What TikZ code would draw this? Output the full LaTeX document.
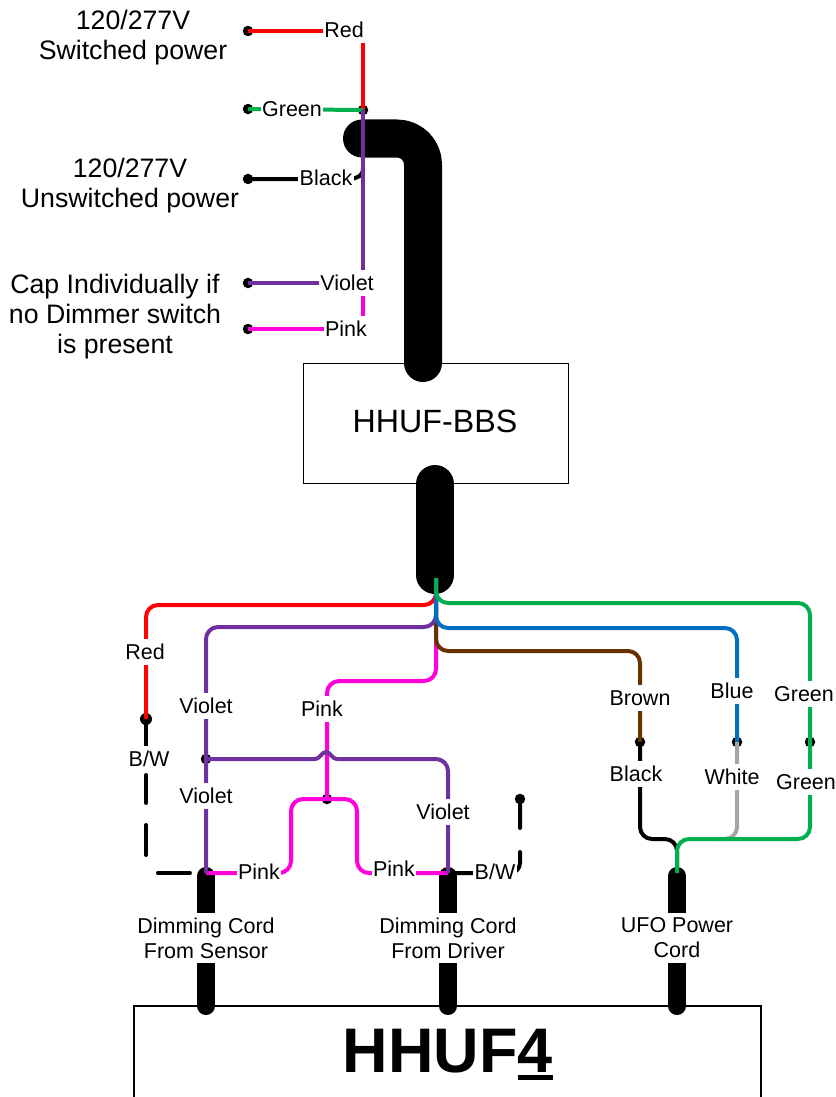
\documentclass[tikz,border=0pt]{standalone}
\usepackage{fontspec}
\setmainfont{Liberation Sans}
\definecolor{wred}{HTML}{FF0000}
\definecolor{wgreen}{HTML}{00B050}
\definecolor{wviolet}{HTML}{7030A0}
\definecolor{wpink}{HTML}{FF00DD}
\definecolor{wblue}{HTML}{0070C0}
\definecolor{wbrown}{HTML}{663300}
\definecolor{wgray}{HTML}{A6A6A6}
\tikzset{
  wire/.style={line width=4pt,line join=round},
  roundwire/.style={wire,rounded corners=12pt},
  term/.style={circle,fill=black,inner sep=0pt,minimum size=10.5pt},
  lab/.style={fill=white,inner xsep=1.5pt,inner ysep=0pt,minimum height=26pt,font=\fontsize{21.5}{25}\selectfont},
  big/.style={font=\fontsize{26.7}{30}\selectfont,align=center},
  cordlab/.style={fill=white,inner xsep=1pt,inner ysep=0pt,minimum height=50pt,align=center,font=\fontsize{21.5}{25}\selectfont},
  cable/.style={line width=18pt,line cap=round},
  fatcable/.style={line width=38pt,line cap=round,line join=round},
  boxline/.style={draw=black,line width=1.2pt}
}
\begin{document}
\begin{tikzpicture}[x=1pt,y=-1pt]
\useasboundingbox (0,0) rectangle (835,1097);
% boxes
\node[boxline,anchor=north west,minimum width=265pt,minimum height=120pt,inner sep=0pt] (bbs) at (303,363) {};
\draw[boxline] (134,1100) -- (134,1006) -- (761,1006) -- (761,1100);
% cables
\draw[fatcable,rounded corners=26pt] (362,138.5) -- (423,138.5) -- (423,363);
\draw[fatcable] (435,484) -- (435,575);
\draw[cable] (206,876) -- (206,1006);
\draw[cable] (448,876) -- (448,1006);
\draw[cable] (677,876) -- (677,1006);
% terminals
\node[term] (tred) at (248,31) {};
\node[term] (tgreen) at (248,109) {};
\node[term] (tblack) at (248,179) {};
\node[term] (tviolet) at (248,283) {};
\node[term] (tpink) at (248,329) {};
\node[term] (tgreenj) at (363,110) {};
\node[term,minimum size=12pt] (dred) at (146,719) {};
\node[term] (dviolet) at (206,759) {};
\node[term] (dpink) at (327,799) {};
\node[term] (dbw) at (520,799) {};
\node[term] (dbrown) at (640,742) {};
\node[term] (dblue) at (737,742) {};
\node[term] (dgreen) at (810,742) {};
\coordinate (join) at (436,578);
\coordinate (cs) at (206,873);
\coordinate (cd) at (448,873);
\coordinate (cu) at (677,873);
% upper wires
\draw[wire,wred] (tred.center) -- (363,31) -- (tgreenj.center);
\draw[wire,wgreen] (tgreen.center) -- (tgreenj.center);
\draw[wire,black] (tblack.center) -- (350,179) .. controls (358,178) and (363,176) .. (363,168);
\draw[wire,wpink] (tpink.center) -- (363,329) -- (363,283);
\draw[wire,wviolet] (tviolet.center) -- (363,283) -- (tgreenj.center);
% lower left wires
\draw[wire,black,line cap=round,rounded corners=2pt,dash pattern=on 36pt off 20pt on 28pt off 22pt on 30pt off 29pt on 32pt off 100pt] (dred.center) -- (146,873) -- (cs);
\draw[wire,black,rounded corners=10pt,line cap=round,dash pattern=on 29pt off 24pt on 120pt] (dbw.center) -- (520,873) -- (cd);
\draw[roundwire,wpink] (join) -- (436,681) -- (327,681) -- (dpink.center);
\draw[roundwire,wpink] (cs) -- (291,873) -- (291,799) -- (357,799) -- (357,873) -- (cd);
\draw[roundwire,wbrown] (join) -- (436,651) -- (640,651) -- (dbrown.center);
\draw[roundwire,wviolet] (join) -- (436,627) -- (206,627) -- (cs);
\draw[wire,wviolet] (dviolet.center) -- (314,759) .. controls (321,759) and (321,752) .. (326,752) .. controls (331,752) and (331,759) .. (338,759) [rounded corners=12pt] -- (448,759) -- (cd);
\draw[roundwire,wred] (join) -- (436,605) -- (146,605) -- (dred.center);
\draw[roundwire,wblue] (join) -- (436,628) -- (737,628) -- (dblue.center);
% lower right wires
\draw[wire,black,rounded corners=12pt] (dbrown.center) -- (640,839) -- (677,839) -- (cu);
\draw[roundwire,wgray] (dblue.center) -- (737,839) -- (715,839);
\draw[roundwire,wgreen] (join) -- (436,603) -- (810,603) -- (810,839) -- (677,839) -- (cu);
% labels
\node[lab] (lred) at (344,30) {Red};
\node[lab] (lgreen) at (292,109) {Green};
\node[lab] (lblack) at (326,178) {Black};
\node[lab] (lviolet) at (347,283) {Violet};
\node[lab] (lpink) at (346,329) {Pink};
\node[big] (t1) at (133,38) {120/277V\\Switched power};
\node[big] (t2) at (130,186) {120/277V\\Unswitched power};
\node[big] (t3) at (115,317) {Cap Individually if\\no Dimmer switch\\is present};
\node[lab] (l1) at (145,652) {Red};
\node[lab] (l2) at (149,759) {B/W};
\node[lab] (l3) at (206,706) {Violet};
\node[lab] (l4) at (206,796) {Violet};
\node[lab] (l5) at (322,709) {Pink};
\node[lab] (l6) at (443,812) {Violet};
\node[lab] (l7) at (259,872) {Pink};
\node[lab] (l8) at (394,869) {Pink};
\node[lab] (l9) at (495,872) {B/W};
\node[lab] (l10) at (640,698) {Brown};
\node[lab] (l11) at (636,774) {Black};
\node[lab] (l12) at (732,691) {Blue};
\node[lab] (l13) at (732,777) {White};
\node[lab] (l14) at (804,694) {Green};
\node[lab] (l15) at (806,782) {Green};
\node[cordlab] (c1) at (206,938) {Dimming Cord\\From Sensor};
\node[cordlab] (c2) at (448,938) {Dimming Cord\\From Driver};
\node[cordlab] (c3) at (677,938) {UFO Power\\Cord};
\node[font=\fontsize{32.2}{38}\selectfont] (nbbs) at (435,421) {HHUF-BBS};
\node[font=\fontsize{63}{70}\selectfont\bfseries,anchor=base,inner sep=0pt] (nhhuf) at (448,1072) {HHUF\makebox[0pt][l]{\rule[-8pt]{35pt}{5pt}}4};
\end{tikzpicture}
\end{document}
